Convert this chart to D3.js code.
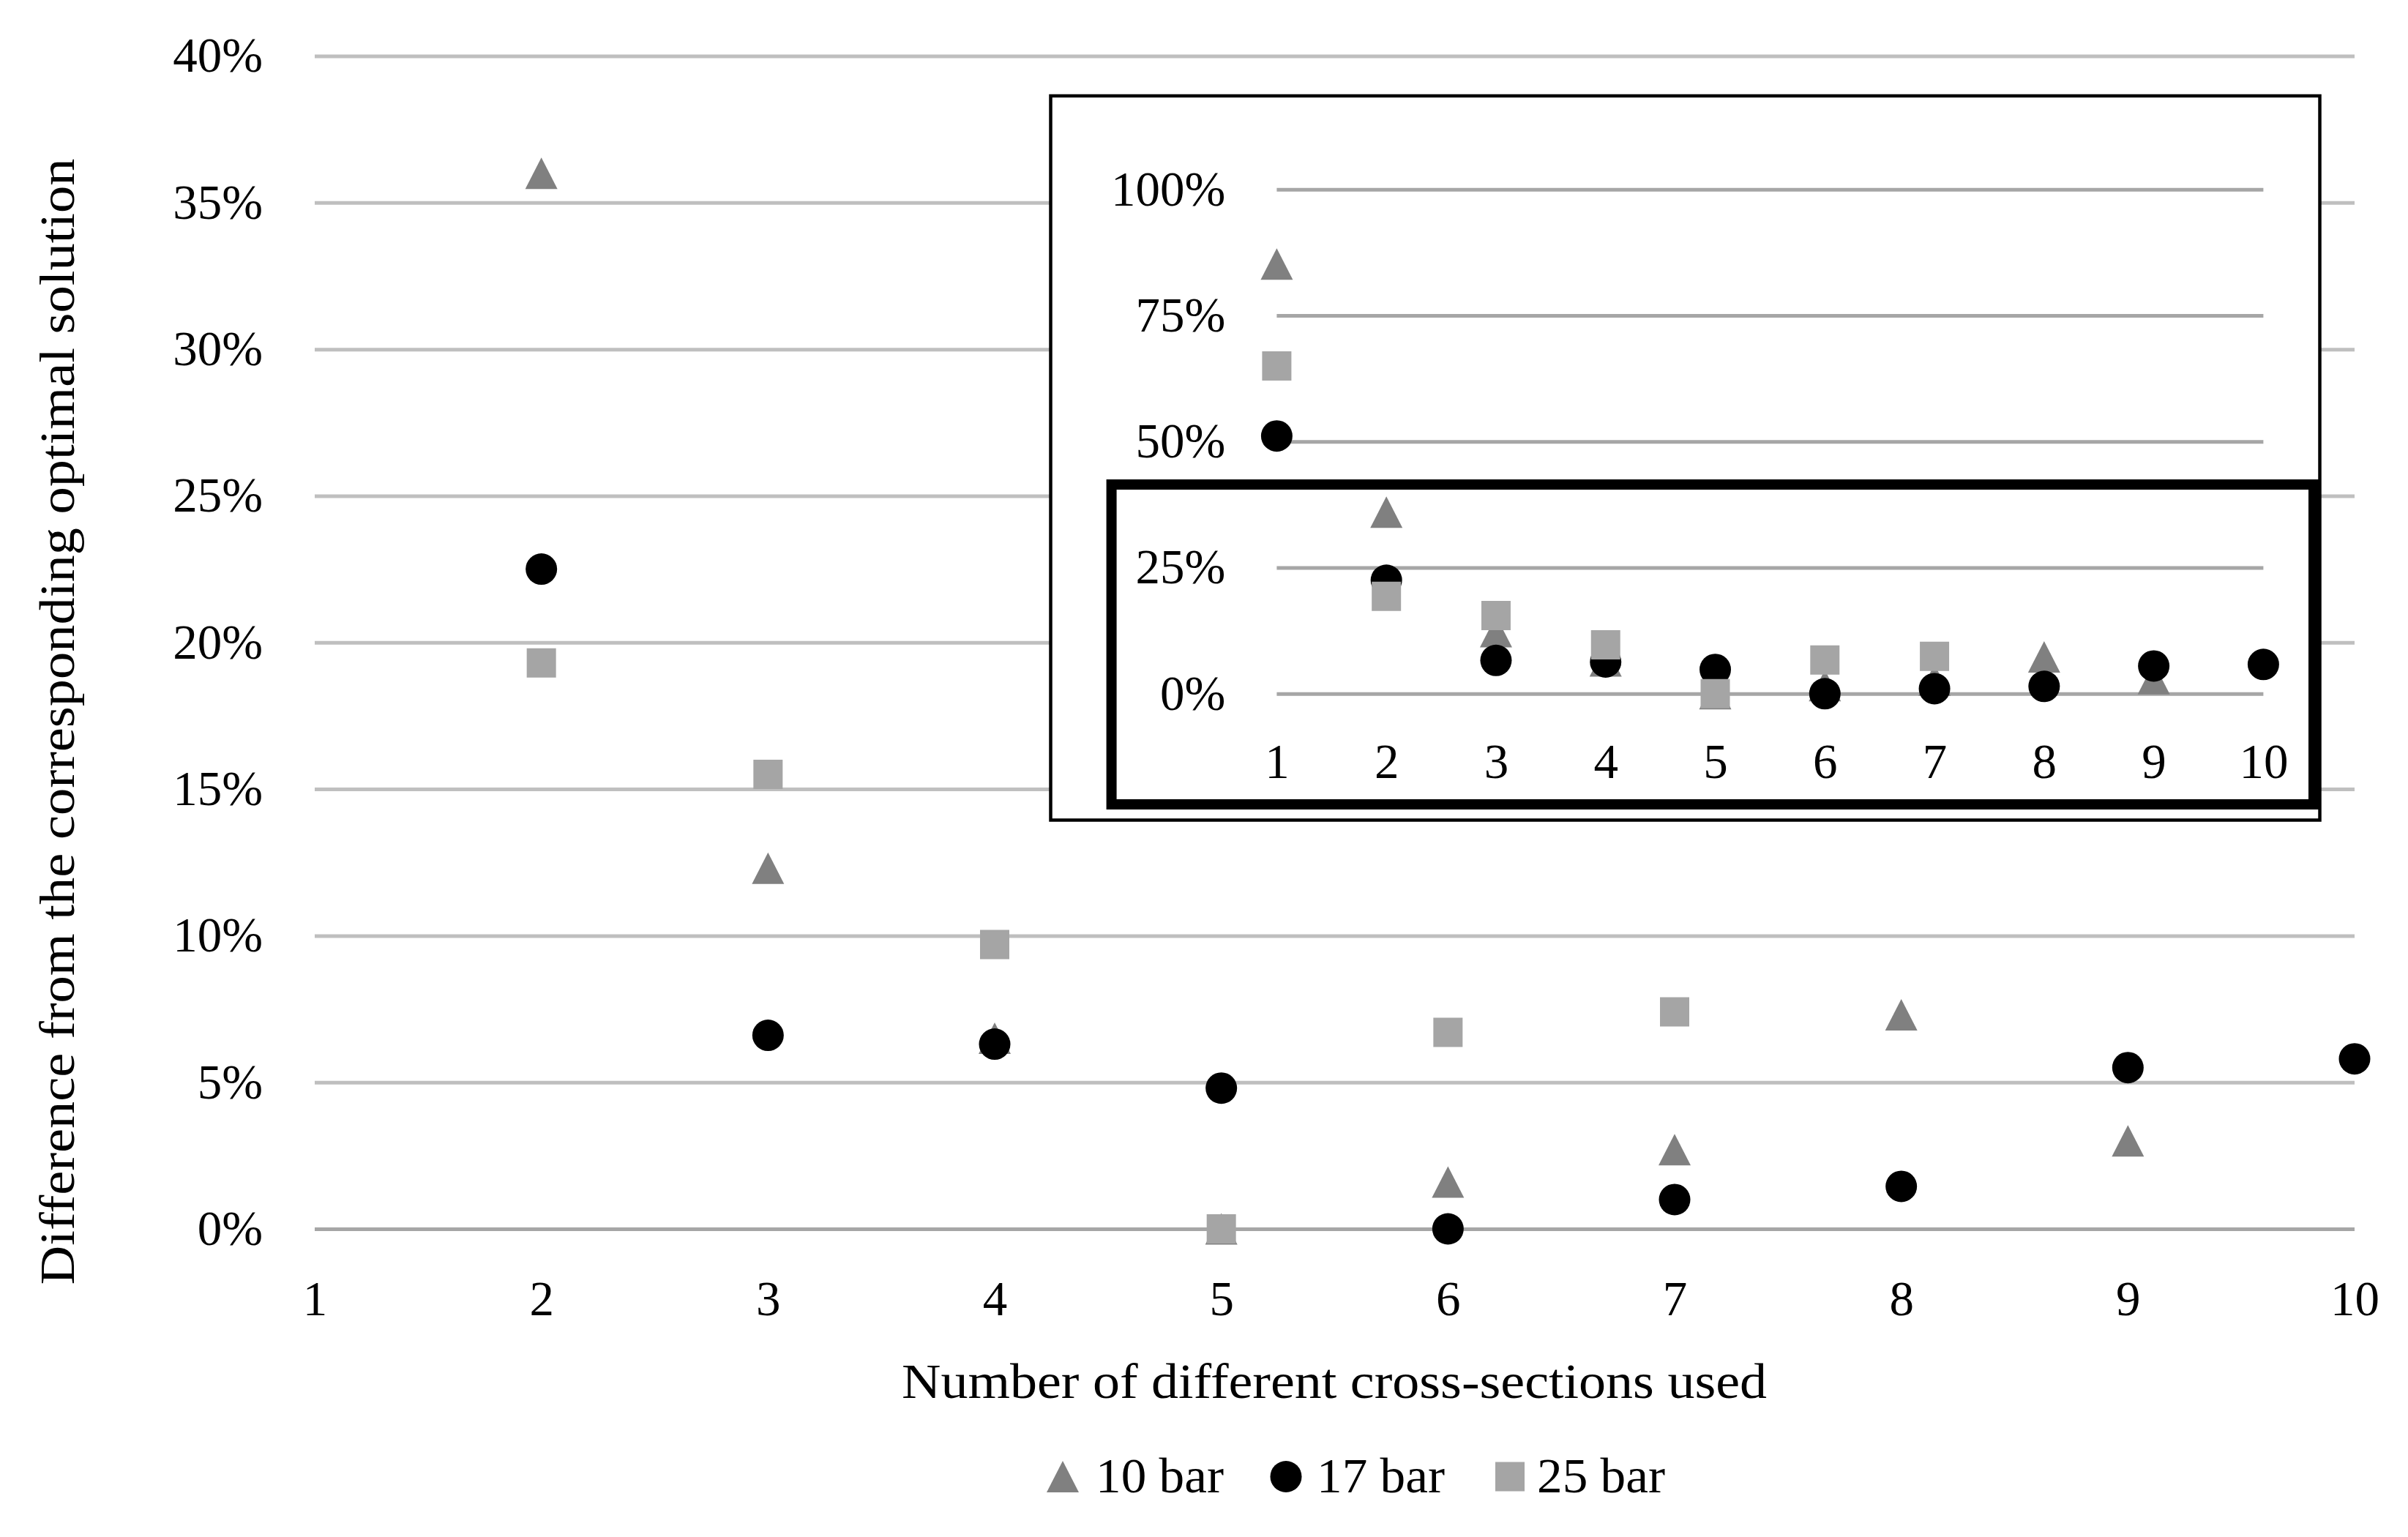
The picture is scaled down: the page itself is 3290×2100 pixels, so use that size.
<!DOCTYPE html>
<html>
<head>
<meta charset="utf-8">
<script src="https://cdn.jsdelivr.net/npm/d3@7"></script>
<style>
  html, body { margin: 0; padding: 0; background: #ffffff; }
  svg { display: block; }
  text { font-family: "Liberation Serif", "Times New Roman", serif; fill: #000; }
</style>
</head>
<body>
<script>
// ---------------- data ----------------
const xCategories = [1, 2, 3, 4, 5, 6, 7, 8, 9, 10];
const bar10 = [0.852, 0.360, 0.123, 0.065, 0.000, 0.016, 0.027, 0.073, 0.030, null];
const bar17 = [0.511, 0.225, 0.066, 0.063, 0.048, 0.000, 0.010, 0.0145, 0.055, 0.058];
const bar25 = [0.650, 0.193, 0.155, 0.097, 0.000, 0.067, 0.074, null, null, null];
const seriesNames = ["10 bar", "17 bar", "25 bar"];
const mainYTicks = [0, 0.05, 0.10, 0.15, 0.20, 0.25, 0.30, 0.35, 0.40];
const insetYTicks = [0, 0.25, 0.50, 0.75, 1.00];
const xTicks = [1, 2, 3, 4, 5, 6, 7, 8, 9, 10];
const xTitle = "Number of different cross-sections used";
const yTitle = "Difference from the corresponding optimal solution";

// ---------------- setup ----------------
const W = 3290, H = 2100;
const svg = d3.select("body").append("svg").attr("width", W).attr("height", H);
svg.append("rect").attr("width", W).attr("height", H).attr("fill", "#fff");

const FS = 67;
const markerShapes = {
  "10 bar": { d: "M0,-21.5L22,21.5L-22,21.5Z", fill: "#808080" },
  "17 bar": { d: "M-21.5,0A21.5,21.5 0 1,0 21.5,0A21.5,21.5 0 1,0 -21.5,0Z", fill: "#000000" },
  "25 bar": { d: "M-20,-20H20V20H-20Z", fill: "#a5a5a5" }
};
const seriesData = [bar10, bar17, bar25].map((vals, i) => ({
  name: seriesNames[i],
  points: xCategories.map((x, j) => ({ x, v: vals[j] })).filter(p => p.v !== null)
}));

const fmt = d3.format(".0%");

function drawChart(g, xs, ys, yTicks, opts) {
  const [x0, x1] = xs.range();
  const yAxis = d3.axisLeft(ys).tickValues(yTicks).tickFormat(fmt)
    .tickSize(-(x1 - x0)).tickPadding(opts.yPad);
  const ga = g.append("g").attr("transform", `translate(${x0},0)`).call(yAxis);
  ga.select(".domain").remove();
  ga.selectAll(".tick line")
    .attr("stroke", d => (d === 0 ? opts.zeroColor : opts.gridColor))
    .attr("stroke-width", opts.gridWidth);
  ga.selectAll(".tick text").attr("font-size", FS).attr("font-family", "Liberation Serif").attr("fill", "#000");

  const [y0] = ys.range();
  const xAxis = d3.axisBottom(xs).tickValues(xTicks).tickFormat(d3.format("d"))
    .tickSize(0).tickPadding(opts.xPad);
  const gx = g.append("g").attr("transform", `translate(0,${y0})`).call(xAxis);
  gx.select(".domain").remove();
  gx.selectAll(".tick text").attr("font-size", FS).attr("font-family", "Liberation Serif").attr("fill", "#000");

  const [dmin, dmax] = ys.domain();
  seriesData.forEach(s => {
    const sh = markerShapes[s.name];
    g.append("g").selectAll("path")
      .data(s.points.filter(p => p.v >= dmin && p.v <= dmax))
      .join("path")
      .attr("d", sh.d)
      .attr("fill", sh.fill)
      .attr("transform", p => `translate(${xs(p.x)},${ys(p.v)})`);
  });
}

// ---------------- main chart ----------------
const xMain = d3.scaleLinear().domain([1, 10]).range([430, 3217]);
const yMain = d3.scaleLinear().domain([0, 0.40]).range([1679, 76.5]);
drawChart(svg.append("g"), xMain, yMain, mainYTicks,
  { yPad: 71, xPad: 70, gridColor: "#bfbfbf", zeroColor: "#a6a6a6", gridWidth: 5 });

svg.append("text")
  .attr("x", 1823).attr("y", 1910)
  .attr("text-anchor", "middle").attr("font-size", FS)
  .attr("textLength", 1182).attr("lengthAdjust", "spacingAndGlyphs")
  .text(xTitle);
svg.append("text")
  .attr("transform", "translate(101,986) rotate(-90)")
  .attr("text-anchor", "middle").attr("font-size", FS)
  .attr("textLength", 1539).attr("lengthAdjust", "spacingAndGlyphs")
  .text(yTitle);

// legend
const legendItems = [
  { name: "10 bar", mx: 1452, tx: 1497 },
  { name: "17 bar", mx: 1757, tx: 1799 },
  { name: "25 bar", mx: 2063, tx: 2100 }
];
const lg = svg.append("g");
legendItems.forEach(it => {
  const sh = markerShapes[it.name];
  lg.append("path").attr("d", sh.d).attr("fill", sh.fill)
    .attr("transform", `translate(${it.mx},2017.5)`);
  lg.append("text").attr("x", it.tx).attr("y", 2039).attr("font-size", FS)
    .attr("textLength", 175).attr("lengthAdjust", "spacingAndGlyphs")
    .text(it.name);
});

// ---------------- inset chart ----------------
const inset = svg.append("g");
inset.append("rect")
  .attr("x", 1435.5).attr("y", 131).attr("width", 3169.5 - 1435.5).attr("height", 1120.5 - 131)
  .attr("fill", "#fff").attr("stroke", "#000").attr("stroke-width", 4.5);

const xIn = d3.scaleLinear().domain([1, 10]).range([1744.4, 3092.4]);
const yIn = d3.scaleLinear().domain([0, 1]).range([947.8, 258.7]);
drawChart(inset.append("g"), xIn, yIn, insetYTicks,
  { yPad: 70, xPad: 68, gridColor: "#a6a6a6", zeroColor: "#a6a6a6", gridWidth: 5 });

// thick highlight box
inset.append("rect")
  .attr("x", 1518.6).attr("y", 662).attr("width", 3161 - 1518.6).attr("height", 1099 - 662)
  .attr("fill", "none").attr("stroke", "#000").attr("stroke-width", 14);
</script>
</body>
</html>
